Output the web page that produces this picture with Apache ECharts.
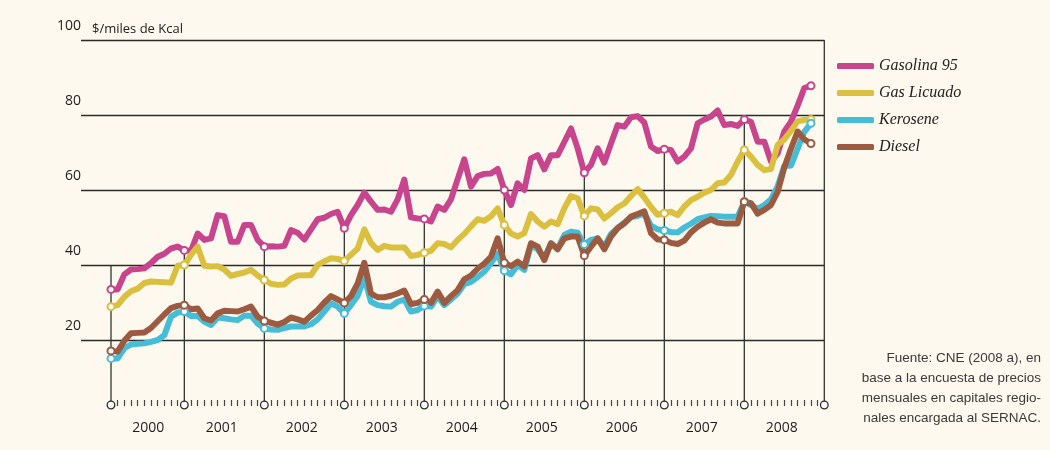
<!DOCTYPE html>
<html>
<head>
<meta charset="utf-8">
<script src="https://cdn.jsdelivr.net/npm/echarts@6/dist/echarts.min.js"></script>
<style>
  html, body { margin: 0; padding: 0; background: #fdf9ee; }
  #chart { width: 1050px; height: 450px; }
</style>
</head>
<body>
<div id="chart"></div>
<script>
// precios mensuales, $/miles de Kcal (índice 0 = primer mes de la serie, 2000)
var gasolina = [33.5,33.5,37.5,38.8,38.9,39.1,40.5,42.2,43.0,44.4,44.9,43.9,
    43.8,48.4,46.7,47.1,53.3,53.0,46.2,46.2,50.7,50.7,46.7,44.9,
    45.0,44.9,45.1,49.3,48.6,46.8,49.5,52.2,52.6,53.6,54.2,49.8,
    53.3,56.0,59.3,56.9,54.7,54.8,54.2,57.5,62.8,52.7,52.4,52.3,
    51.6,55.6,54.7,57.5,62.9,68.2,60.9,63.7,64.3,64.4,65.6,60.0,
    56.0,61.8,60.0,68.4,69.3,65.5,69.3,69.3,72.8,76.4,71.1,64.6,
    66.7,71.1,67.3,72.4,77.3,76.9,79.4,79.7,78.0,71.6,70.4,70.9,
    70.7,67.6,68.9,71.1,77.8,78.8,79.6,81.2,77.3,77.6,77.1,78.8,
    78.2,72.9,72.9,67.6,69.8,75.6,78.2,82.5,87.2,87.8];
var gasLicuado = [28.9,29.3,31.5,33.0,33.7,35.2,35.6,35.5,35.4,35.3,39.8,40.0,
    42.7,44.9,39.8,39.6,39.7,38.8,37.1,37.6,38.0,38.7,37.2,36.0,
    35.0,34.7,34.8,36.4,37.2,37.3,37.3,40.0,41.0,41.8,41.6,41.1,
    42.7,44.4,49.5,45.9,44.0,45.1,44.7,44.7,44.7,42.4,42.7,43.3,
    43.8,45.8,45.6,44.7,46.7,48.3,50.3,52.2,51.8,53.0,55.1,50.7,
    48.4,47.6,48.5,53.6,51.6,50.2,51.6,50.9,55.1,58.4,57.8,53.1,
    55.1,54.8,52.4,53.8,55.4,56.4,58.4,60.2,58.0,55.5,53.4,53.8,
    54.2,53.3,55.6,57.3,58.2,59.3,60.0,61.8,62.0,64.0,67.6,70.7,
    68.9,66.7,65.3,65.6,72.0,73.5,75.8,78.3,78.7,78.8];
var kerosene = [15.1,15.1,17.8,18.8,19.0,19.1,19.5,20.0,21.3,26.2,27.3,27.6,
    26.4,26.4,24.9,24.0,26.0,25.8,25.5,25.3,26.5,26.5,24.4,23.1,
    22.8,22.7,23.2,23.6,23.6,23.6,24.2,25.5,27.6,29.8,28.9,27.1,
    29.3,31.8,36.7,30.2,29.3,29.0,28.9,30.2,30.8,27.6,28.0,29.1,
    28.9,31.6,29.3,30.8,32.4,34.9,35.5,36.8,38.2,40.5,43.0,38.5,
    37.5,40.0,38.7,45.3,44.2,41.8,45.8,44.4,48.0,48.9,48.6,45.5,
    46.7,47.1,44.9,48.3,49.9,51.3,52.7,53.1,53.8,50.5,49.5,49.2,
    48.8,48.7,50.0,51.0,52.2,52.7,53.1,53.0,52.9,52.9,52.9,56.9,
    56.0,55.0,56.0,57.5,61.0,66.4,66.5,71.0,75.5,77.8];
var diesel = [17.1,16.9,19.8,21.8,21.9,22.0,23.2,25.0,26.8,28.5,29.1,29.3,
    28.2,28.4,25.8,25.2,27.1,27.8,27.7,27.6,28.2,28.9,26.2,25.1,
    24.6,24.1,24.8,26.0,25.5,24.9,26.5,28.0,30.0,31.7,30.8,29.9,
    31.7,35.1,40.6,32.4,31.4,31.4,31.8,32.4,33.2,29.6,29.9,30.8,
    29.9,32.9,29.9,31.7,33.3,36.2,37.2,39.0,40.4,42.2,47.1,40.6,
    39.7,40.9,39.6,45.8,44.9,41.3,45.8,44.2,47.1,47.6,47.6,42.5,
    44.9,47.1,44.2,47.6,49.8,51.1,52.9,53.6,54.3,48.5,46.8,46.7,
    45.9,45.6,46.5,48.7,50.2,51.3,52.2,51.3,51.1,51.1,51.1,56.9,
    56.5,53.7,54.7,56.0,59.5,66.0,71.0,75.6,73.5,72.4];

var seriesNames = ['Gasolina 95', 'Gas Licuado', 'Kerosene', 'Diesel'];
var seriesColors = ['#c8458e', '#dbbf3f', '#45bdd7', '#9c5a41'];

// meses donde empieza cada año (líneas verticales) y posición de los rótulos
var yearBreaks = [0, 11, 23, 35, 47, 59, 71, 83, 95, 107];
var yearLabels = ['2000','2001','2002','2003','2004','2005','2006','2007','2008'];
var yearLabelPos = [5.6, 16.6, 28.6, 40.6, 52.6, 64.6, 76.6, 88.6, 100.6];
var markerIdx = [0, 11, 23, 35, 47, 59, 71, 83, 95, 105];

var baseY = 8 / 3;   // altura de la fila de círculos del eje
var lastMonth = 107;

var monthTicks = [];
for (var m = 1; m < lastMonth; m++) {
    if (yearBreaks.indexOf(m) < 0) monthTicks.push(m);
}

function toPairs(arr) {
    return arr.map(function (v, i) { return [i, v]; });
}

var breakData = yearBreaks.map(function (i) {
    var top;
    if (i === 0) top = 40;
    else if (i === lastMonth) top = 100;
    else top = gasolina[i];
    return [i, top];
});

var chart = echarts.init(document.getElementById('chart'));

var lineSeries = [gasolina, gasLicuado, kerosene, diesel].map(function (arr, k) {
    return {
        name: seriesNames[k],
        type: 'line',
        z: 3,
        data: toPairs(arr),
        color: seriesColors[k],
        symbol: 'emptyCircle',
        showAllSymbol: true,
        symbolSize: function (val, params) {
            return markerIdx.indexOf(params.dataIndex) >= 0 ? 7 : 0;
        },
        lineStyle: { width: 6, cap: 'round', join: 'round' },
        itemStyle: { color: seriesColors[k], borderWidth: 2.2 },
        emphasis: { disabled: true },
        animation: false
    };
});

chart.setOption({
    backgroundColor: '#fdf9ee',
    animation: false,
    title: {
        text: '$/miles de Kcal',
        left: 87,
        top: 18,
        textStyle: { fontFamily: 'Open Sans', fontSize: 13, fontWeight: 'normal', color: '#222' }
    },
    legend: {
        orient: 'vertical',
        left: 832,
        top: 52,
        icon: 'roundRect',
        itemWidth: 37,
        itemHeight: 6,
        itemGap: 9,
        data: seriesNames,
        itemStyle: { borderWidth: 0 },
        textStyle: {
            fontFamily: 'Liberation Serif',
            fontStyle: 'italic',
            fontSize: 16,
            lineHeight: 18,
            color: '#222'
        }
    },
    grid: { left: 81, right: 225.7, top: 40, bottom: 35, containLabel: false },
    xAxis: {
        type: 'value',
        min: -4.5,
        max: lastMonth,
        offset: -15,
        axisLine: { show: false },
        splitLine: { show: false },
        axisTick: {
            show: true,
            customValues: monthTicks,
            length: 6,
            lineStyle: { color: '#444', width: 1.2 }
        },
        axisLabel: {
            customValues: yearLabelPos,
            margin: 21,
            fontFamily: 'Open Sans',
            fontSize: 14,
            color: '#1e1e1e',
            formatter: function (v) {
                for (var i = 0; i < yearLabelPos.length; i++) {
                    if (Math.abs(yearLabelPos[i] - v) < 0.01) return yearLabels[i];
                }
                return '';
            }
        }
    },
    yAxis: {
        type: 'value',
        min: 0,
        max: 100,
        interval: 20,
        axisLine: { show: false },
        axisTick: { show: false },
        splitLine: { show: true, showMinLine: false, lineStyle: { color: '#2b2b28', width: 1.3 } },
        axisLabel: {
            showMinLabel: false,
            margin: 0,
            verticalAlign: 'bottom',
            lineHeight: 16,
            padding: [0, 0, 6, 0],
            fontFamily: 'Open Sans',
            fontSize: 14,
            color: '#1e1e1e'
        }
    },
    graphic: [{
        type: 'text',
        right: 9,
        top: 348,
        style: {
            text: 'Fuente: CNE (2008 a), en\nbase a la encuesta de precios\nmensuales en capitales regio-\nnales encargada al SERNAC.',
            font: '13.5px "Liberation Sans"',
            fill: '#3a3a3a',
            align: 'right',
            textAlign: 'right',
            lineHeight: 20
        }
    }],
    series: [{
        type: 'custom',
        z: 1,
        silent: true,
        data: breakData,
        encode: { x: 0, y: 1 },
        renderItem: function (params, api) {
            var top = api.coord([api.value(0), api.value(1)]);
            var bot = api.coord([api.value(0), baseY]);
            return {
                type: 'group',
                children: [{
                    type: 'line',
                    shape: { x1: bot[0], y1: bot[1], x2: top[0], y2: top[1] },
                    style: { stroke: '#33332f', lineWidth: 1.3 }
                }, {
                    type: 'circle',
                    shape: { cx: bot[0], cy: bot[1], r: 3.8 },
                    style: { fill: '#fff', stroke: '#2b2b28', lineWidth: 1.3 }
                }]
            };
        }
    }].concat(lineSeries)
});
</script>
</body>
</html>
